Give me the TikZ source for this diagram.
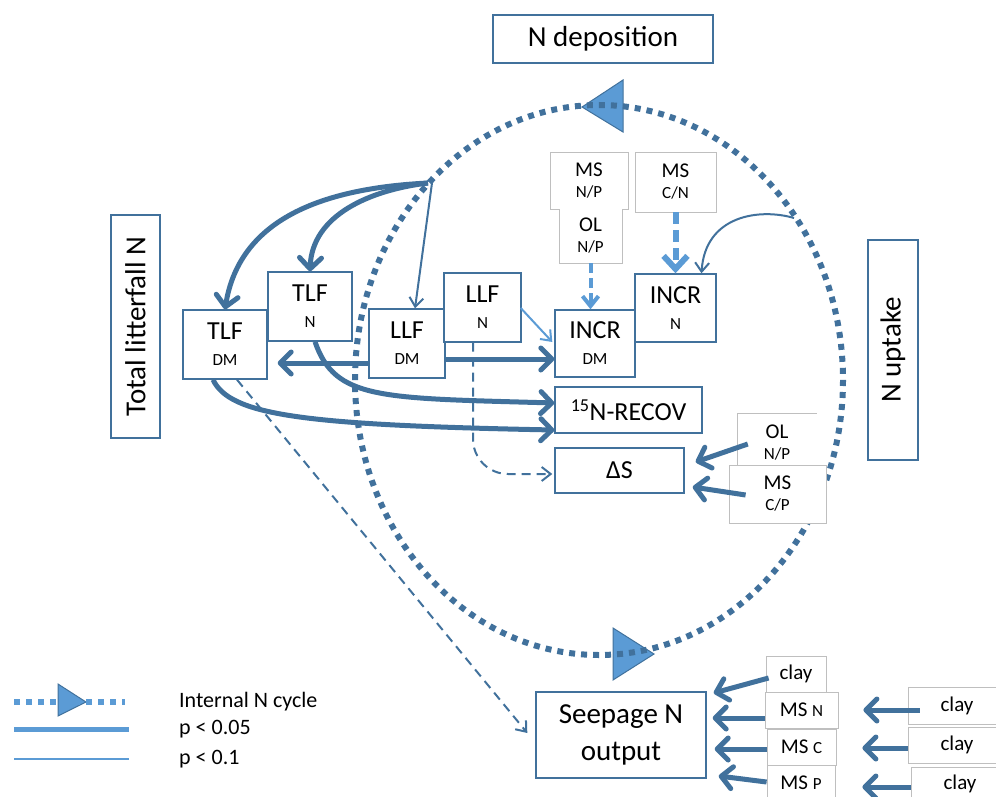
\documentclass[tikz,border=0pt]{standalone}
\usepackage{fontspec}
\setmainfont{Carlito}
\usetikzlibrary{arrows.meta,calc}
\definecolor{steel}{HTML}{41719C}
\definecolor{sky}{HTML}{5B9BD5}
\definecolor{frame}{HTML}{BFBFBF}
\newcommand\fsz[2]{\fontsize{#1}{#2}\selectfont}
\newcommand\lowtag[1]{{\fsz{17}{17}#1}}
\newcommand\smalltag[1]{{\fsz{17}{17}#1}}
\tikzset{
  cell/.style={draw=steel, line width=1.4pt, fill=white, align=center, inner sep=0pt, font=\fsz{26}{26}},
  headbox/.style={cell, font=\fsz{29}{37}},
  memo/.style={draw=frame, line width=0.8pt, fill=white, align=center, inner sep=0pt, font=\fsz{21}{21}},
  memotext/.style={align=center, inner sep=0pt, font=\fsz{21}{21}},
  frameline/.style={draw=frame, line width=0.8pt},
  strong/.style={draw=steel, line width=5pt, -{Straight Barb[length=11pt,width=22pt,round]}},
  weak/.style={draw=steel, line width=2pt, -{Straight Barb[length=9pt,width=14pt]}},
  weakdash/.style={weak, dash pattern=on 9pt off 6pt},
  paleweak/.style={weak, draw=sky},
  paledash/.style={draw=sky, line width=4pt, dash pattern=on 10pt off 5pt, -{Straight Barb[length=10pt,width=16pt]}},
  palestrong/.style={draw=sky, line width=6pt, dash pattern=on 12pt off 6pt, -{Straight Barb[length=13pt,width=24pt]}},
  cycleline/.style={draw=steel, line width=6pt, dash pattern=on 6pt off 6pt},
  cycletip/.style={fill=sky, draw=steel, line width=1pt},
  keytext/.style={anchor=west, inner sep=0pt, font=\fsz{22}{22}},
}
\begin{document}
\begin{tikzpicture}[x=1pt,y=-1pt]
\path[use as bounding box] (0,0) rectangle (996,797);
\clip (0,0) rectangle (996,797);

% internal N cycle: direction markers under the dotted ring
\filldraw[cycletip] (582,107) -- (623,80) -- (623,132) -- cycle;
\filldraw[cycletip] (613,628) -- (654,654) -- (613,680) -- cycle;
\draw[cycleline] (599,380) ellipse [x radius=244, y radius=275];
\coordinate (lf) at (428,183);
\coordinate (up) at (794,218);

% outer labels
\node[headbox, minimum width=220pt, minimum height=48pt] (ndep) at (603,39) {N deposition};
\node[headbox, rotate=90, minimum width=223pt, minimum height=49pt] (tlit) at (135.5,326.5) {Total litterfall N};
\node[headbox, rotate=90, minimum width=220pt, minimum height=50pt] (nupt) at (893,350) {N uptake};

% soil / site covariates (grey text boxes)
\filldraw[frameline, fill=white] (550,152) -- (628,152) -- (628,209) -- (622,209) -- (622,263)
  -- (559,263) -- (559,209) -- (550,209) -- cycle;
\node[memotext, minimum width=78pt, minimum height=57pt] (msnp) at (589,181) {MS\\\smalltag{N/P}};
\node[memotext, minimum width=63pt, minimum height=54pt] (olnp) at (590.5,236) {OL\\\smalltag{N/P}};
\node[memo, minimum width=81pt, minimum height=60pt] (mscn) at (675.5,182) {MS\\\smalltag{C/N}};

\draw[frameline] (737,465) -- (737,413) -- (817,413);
\node[memotext, minimum width=80pt, minimum height=44pt] (olr) at (777,443) {OL\\\smalltag{N/P}};
\node[memo, minimum width=97pt, minimum height=58pt] (mscp) at (777.5,494) {MS\\\smalltag{C/P}};

\node[memo, minimum width=60pt, minimum height=36pt] (clay1) at (796,674) {clay};
\node[memo, minimum width=73pt, minimum height=36pt] (msn) at (801.5,710) {MS \smalltag{N}};
\node[memo, minimum width=69pt, minimum height=36pt] (msc) at (801.5,747) {MS \smalltag{C}};
\node[memo, minimum width=68pt, minimum height=36pt] (msp) at (801,783) {MS \smalltag{P}};
\node[memo, minimum width=98pt, minimum height=37pt] (clayn) at (957,705.5) {clay};
\node[memo, minimum width=98pt, minimum height=36pt] (clayc) at (957,745) {clay};
\node[memo, minimum width=98pt, minimum height=34pt] (clayp) at (960,784) {clay};

% litterfall and increment boxes
\node[cell, minimum width=84pt, minimum height=69pt] (tlfdm) at (225,344.5) {TLF\\\lowtag{DM}};
\node[cell, minimum width=84pt, minimum height=69pt] (tlfn) at (310,306.5) {TLF\\\lowtag{N}};
\node[cell, minimum width=76pt, minimum height=69pt] (llfdm) at (407,343.5) {LLF\\\lowtag{DM}};
\node[cell, minimum width=77pt, minimum height=69pt] (llfn) at (482.5,307.5) {LLF\\\lowtag{N}};
\node[cell, minimum width=80pt, minimum height=67pt] (incrdm) at (595,343.5) {INCR\\\lowtag{DM}};
\node[cell, minimum width=81pt, minimum height=68pt] (incrn) at (675.5,308) {INCR\\\lowtag{N}};
\node[cell, minimum width=147pt, minimum height=46pt] (recov) at (628.5,410) {\textsuperscript{15}N-RECOV};
\node[cell, minimum width=129pt, minimum height=45pt] (ds) at (619.5,470.5) {ΔS};
\node[headbox, minimum width=170pt, minimum height=86pt] (seep) at (621,735) {Seepage N\\output};

% effects
\draw[strong] (lf) .. controls (330,188) and (240,215) .. (tlfdm.north);
\draw[strong] (lf) .. controls (370,190) and (312,215) .. (tlfn.north);
\draw[weak] ($(lf)+(4,0)$) -- ($(llfdm.north)+(8,0)$);
\draw[strong] ($(llfdm.west)+(0,19.5)$) -- ($(tlfdm.east)+(10,18.5)$);
\draw[strong] ($(llfdm.east)+(0,15.5)$) -- ($(incrdm.west)+(0,15.5)$);
\draw[paleweak] ($(llfn.east)+(-1,0.5)$) -- ($(incrdm.west)+(-2,-1.5)$);
\draw[strong] ($(tlfn.south)+(5,0)$) .. controls (335,400) and (380,398) .. ($(recov.west)+(0,-7)$);
\draw[strong] ($(tlfdm.south)+(-12,0)$) .. controls (230,415) and (300,425) .. ($(recov.west)+(0,20)$);
\draw[weakdash] ($(tlfdm.south)+(12,0)$) -- ($(seep.west)+(-8,-2)$);
\draw[weakdash, rounded corners=35pt] ($(llfn.south)+(-9.5,0)$) |- ($(ds.west)+(-2,3.5)$);
\draw[paledash] (olnp.south) -- (olnp.south |- incrdm.north);
\draw[palestrong] (mscn.south) -- (incrn.north);
\draw[weak] (up) .. controls (760,208) and (705,215) .. ($(incrn.north)+(26,0)$);

\draw[strong] ($(olr.west)+(11,1)$) -- ($(ds.east)+(11,-8.5)$);
\draw[strong] ($(mscp.west)+(17,1)$) -- ($(ds.east)+(8,16.5)$);

\draw[strong] ($(clay1.west)+(3,4)$) -- ($(seep.east)+(7,-42)$);
\draw[strong] ($(msn.west)+(0,8)$) -- ($(seep.east)+(6,-17)$);
\draw[strong] ($(msc.west)+(0,2)$) -- ($(seep.east)+(8,14)$);
\draw[strong] ($(msp.west)+(0,-1)$) -- ($(seep.east)+(12,41)$);
\draw[strong] ($(clayn.west)+(12,4.5)$) -- ($(msn.east)+(25,0)$);
\draw[strong] ($(clayc.west)+(0,3)$) -- ($(msc.east)+(26,1)$);
\draw[strong] ($(clayp.west)+(0,3)$) -- ($(msp.east)+(27,4)$);

% key
\coordinate (ka) at (14,702);
\coordinate (kb) at (125,702);
\coordinate (kc) at (14,729);
\coordinate (kd) at (129,729);
\coordinate (ke) at (14,759);
\coordinate (kf) at (129,759);
\filldraw[cycletip] (58,684) -- (86,702) -- (58,716) -- cycle;
\draw[cycleline, draw=sky] (ka) -- (kb);
\draw[sky, line width=5pt] (kc) -- (kd);
\draw[sky, line width=2.5pt] (ke) -- (kf);
\node[keytext] (k1) at (179,702) {Internal N cycle};
\node[keytext] (k2) at (179,729) {p < 0.05};
\node[keytext] (k3) at (179,759) {p < 0.1};
\end{tikzpicture}
\end{document}
